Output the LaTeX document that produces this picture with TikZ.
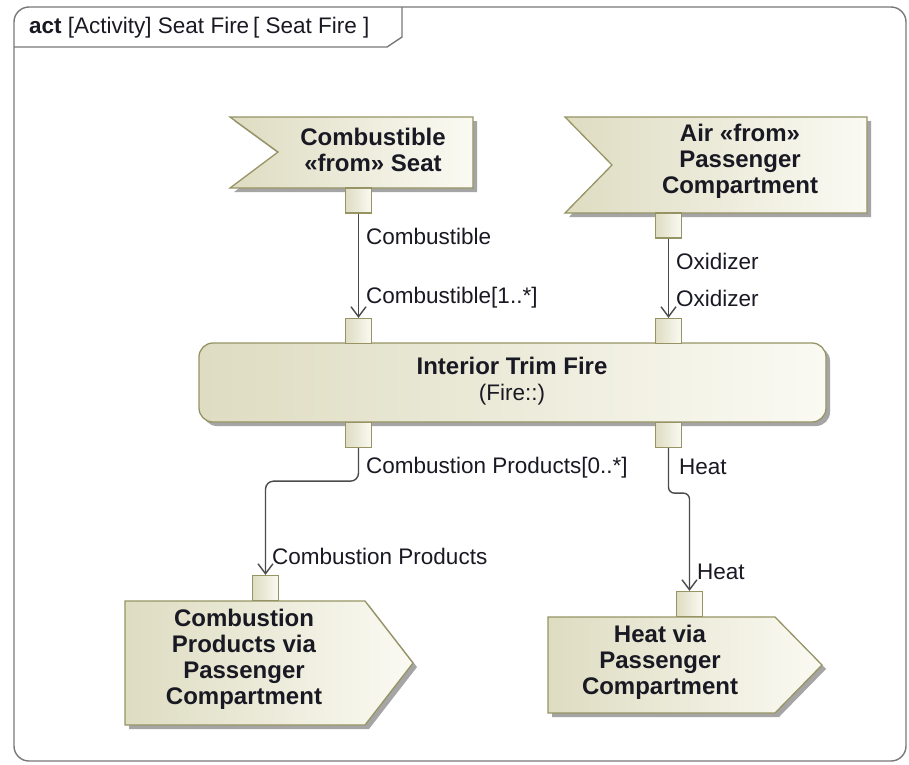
\documentclass[tikz,border=0pt]{standalone}
\usepackage{fontspec}
\setmainfont{Liberation Sans}
\usetikzlibrary{arrows.meta}

\definecolor{sigL}{RGB}{222,220,193}
\definecolor{sigR}{RGB}{250,250,243}
\definecolor{sigB}{RGB}{150,148,100}
\definecolor{shadc}{RGB}{165,165,165}
\definecolor{framec}{RGB}{120,120,120}
\definecolor{flowc}{RGB}{75,75,75}
\definecolor{txtc}{RGB}{25,25,35}

\newcommand\cnxfont{\fontsize{22.5}{26}\selectfont}
\newcommand\boxfont{\fontsize{24}{26}\selectfont\bfseries}

\begin{document}
\begin{tikzpicture}[x=1pt,y=-1pt,
  frameline/.style={draw=framec, line width=1.4pt},
  elemfill/.style={left color=sigL, right color=sigR, draw=sigB, line width=1.3pt},
  shadowfill/.style={fill=shadc},
  pinbox/.style={elemfill, minimum width=26pt, minimum height=25pt, inner sep=0pt},
  flow/.style={draw=flowc, line width=1.4pt, -{Straight Barb[length=10pt,width=15pt]}},
  cnxlabel/.style={anchor=west, inner sep=0pt, text=txtc, font=\cnxfont},
  boxtext/.style={align=center, inner sep=0pt, text=txtc, font=\boxfont}
]
\useasboundingbox (0,0) rectangle (909,764);
\fill[white] (0,0) rectangle (909,764);

% diagram frame and its name tab
\draw[frameline, rounded corners=15] (14,7) -- (906,7) -- (906,761) -- (14,761) -- cycle;
\draw[frameline] (14,47) -- (387,47) -- (402,37) -- (402,7);
\node[anchor=base west, inner sep=0pt, text=txtc, font=\cnxfont] (title) at (29,33)
  {\textbf{act} [Activity] Seat Fire\,[ Seat Fire ]};

% accept event: combustible from seat
\fill[shadowfill, shift={(4,4)}] (230,117) -- (473,117) -- (473,188) -- (230,188) -- (278,152) -- cycle;
\path[elemfill] (230,117) -- (473,117) -- (473,188) -- (230,188) -- (278,152) -- cycle;
\node[boxtext] (seat) at (373,150) {Combustible\\«from» Seat};

% accept event: air from passenger compartment
\fill[shadowfill, shift={(4,4)}] (565,117) -- (867,117) -- (867,213) -- (565,213) -- (612,165) -- cycle;
\path[elemfill] (565,117) -- (867,117) -- (867,213) -- (565,213) -- (612,165) -- cycle;
\node[boxtext] (air) at (740,161.5) {Air «from»\\Passenger\\Compartment};

% action
\fill[shadowfill, rounded corners=14] (203,347) rectangle (830,426);
\node[elemfill, rounded corners=14, minimum width=627pt, minimum height=79pt,
      inner sep=0pt] (fire) at (512.5,382.5) {};
\node[boxtext] (firename) at (512,366) {Interior Trim Fire};
\node[inner sep=0pt, text=txtc, font=\cnxfont] (firetype) at (512,395) {(Fire::)};

% send signal: combustion products
\fill[shadowfill, shift={(4,4)}] (125,601) -- (365,601) -- (413,663) -- (365,725) -- (125,725) -- cycle;
\path[elemfill] (125,601) -- (365,601) -- (413,663) -- (365,725) -- (125,725) -- cycle;
\node[boxtext] (prod) at (244,659) {Combustion\\Products via\\Passenger\\Compartment};

% send signal: heat
\fill[shadowfill, shift={(4,4)}] (548,617) -- (775,617) -- (822,665) -- (775,713) -- (548,713) -- cycle;
\path[elemfill] (548,617) -- (775,617) -- (822,665) -- (775,713) -- (548,713) -- cycle;
\node[boxtext] (heatout) at (660,662) {Heat via\\Passenger\\Compartment};

% pins
\node[pinbox] (pA) at (358.5,200.5) {};
\node[pinbox] (pB) at (668.5,225.5) {};
\node[pinbox] (pC) at (358.5,331) {};
\node[pinbox] (pD) at (668.5,331) {};
\node[pinbox] (pE) at (358.5,435) {};
\node[pinbox] (pF) at (668.5,435) {};
\node[pinbox] (pG) at (265.5,588) {};
\node[pinbox] (pH) at (689.5,604) {};

% object flows
\draw[flow] (pA.south) -- (pC.north);
\draw[flow] (pB.south) -- (pD.north);
\draw[flow, rounded corners=8] (pE.south) -- ++(0,33) -| (pG.north);
\draw[flow, rounded corners=6] (pF.south) -- ++(0,45) -| (pH.north);

% flow labels
\node[cnxlabel] (l1) at (366,236) {Combustible};
\node[cnxlabel] (l2) at (366,298) {Combustible[1..*]};
\node[cnxlabel] (l3) at (676,261) {Oxidizer};
\node[cnxlabel] (l4) at (676,298) {Oxidizer};
\node[cnxlabel] (l5) at (366,468) {Combustion Products[0..*]};
\node[cnxlabel] (l6) at (679,467) {Heat};
\node[cnxlabel] (l7) at (272,556) {Combustion Products};
\node[cnxlabel] (l8) at (697,572) {Heat};
\end{tikzpicture}
\end{document}
